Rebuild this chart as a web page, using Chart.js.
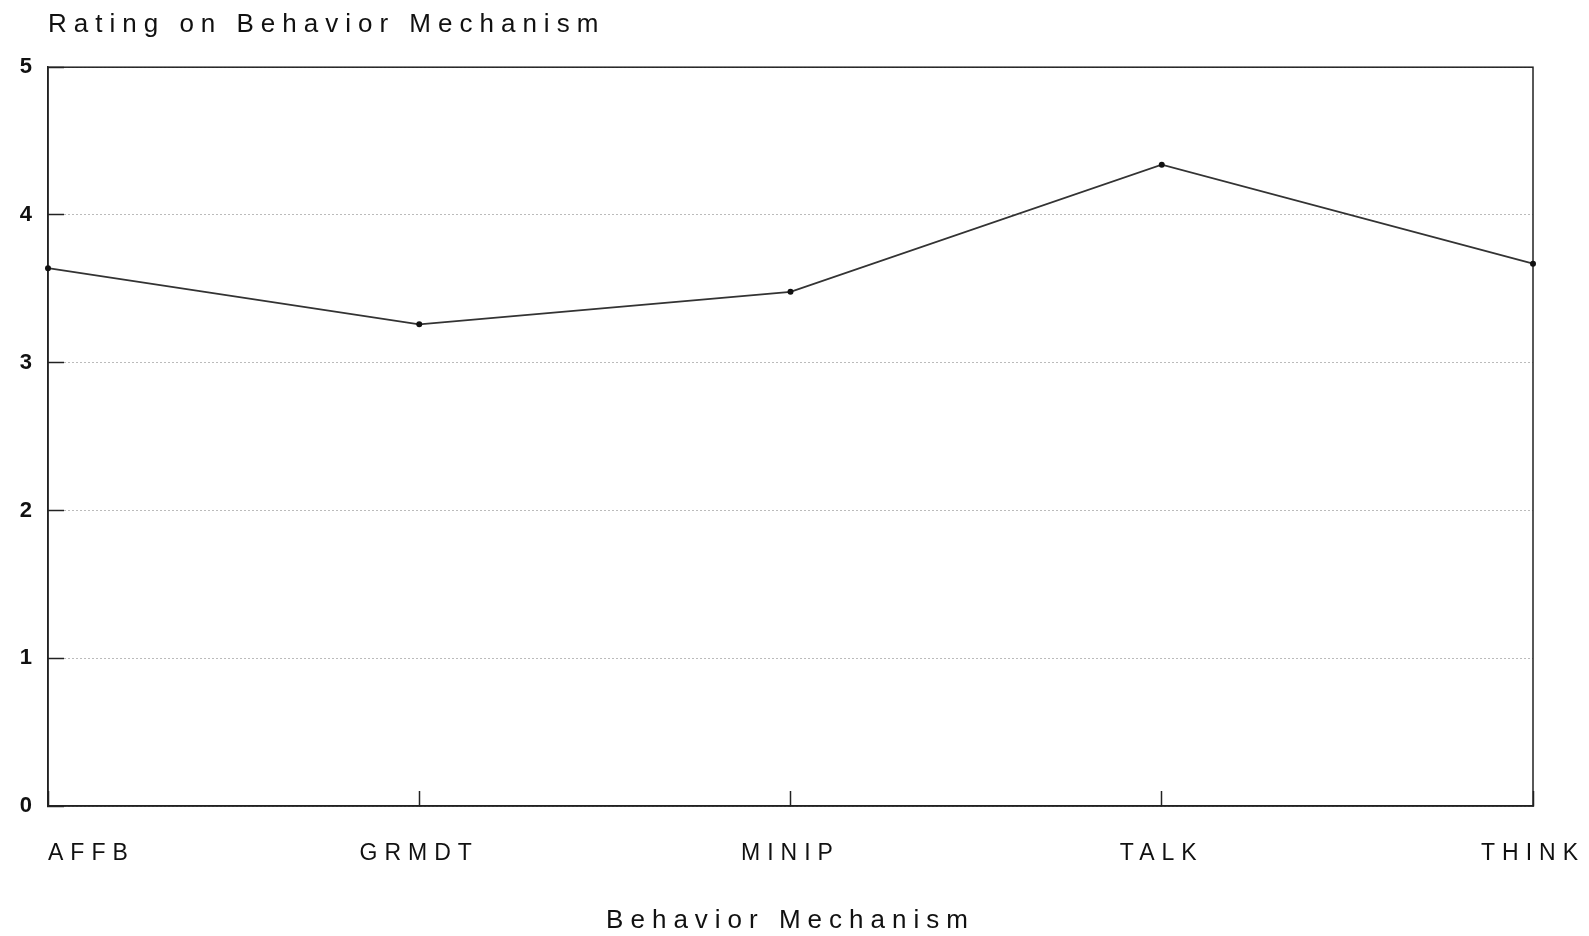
<!DOCTYPE html>
<html>
<head>
<meta charset="utf-8">
<title>Rating on Behavior Mechanism</title>
<script src="https://cdn.jsdelivr.net/npm/chart.js@4.4.1/dist/chart.umd.min.js"></script>
<style>
  html, body { margin: 0; padding: 0; background: #fff; }
  canvas { display: block; }
</style>
</head>
<body>
<canvas id="ratingChart" width="1589" height="936"></canvas>
<script>
// Data
var mechanisms = ['AFFB', 'GRMDT', 'MINIP', 'TALK', 'THINK'];
var ratings = [3.64, 3.26, 3.48, 4.34, 3.67];
var yTicks = [0, 1, 2, 3, 4, 5];

var chartTitle = 'Rating on Behavior Mechanism';
var xTitle = 'Behavior Mechanism';

// old plotter look: wide letter spacing, closed frame round the plot
var plotterLook = {
  id: 'plotterLook',
  beforeUpdate: function(chart) {
    chart.ctx.letterSpacing = '7px';
  },
  beforeDraw: function(chart) {
    chart.ctx.letterSpacing = '7px';
    // first category label starts at its tick instead of centring on it
    var items = chart.scales.x.getLabelItems();
    if (items.length) {
      items[0].options.textAlign = 'left';
    }
  },
  beforeDatasetsDraw: function(chart) {
    var a = chart.chartArea;
    var ctx = chart.ctx;
    ctx.save();
    ctx.strokeStyle = '#222';
    ctx.lineWidth = 1.5;
    ctx.strokeRect(a.left, a.top, a.right - a.left, a.bottom - a.top);
    ctx.restore();
  }
};

var ctx = document.getElementById('ratingChart').getContext('2d');
var ratingChart = new Chart(ctx, {
  type: 'line',
  data: {
    labels: mechanisms,
    datasets: [{
      label: 'Rating',
      data: ratings,
      borderColor: '#333',
      borderWidth: 1.8,
      pointRadius: 3,
      pointBackgroundColor: '#111',
      pointBorderColor: '#111',
      pointBorderWidth: 0,
      tension: 0,
      fill: false,
      clip: false
    }]
  },
  options: {
    responsive: false,
    animation: false,
    devicePixelRatio: 1,
    layout: {
      padding: { left: 0, right: 56, top: 0, bottom: 0 }
    },
    plugins: {
      legend: { display: false },
      tooltip: { enabled: false },
      title: {
        display: true,
        text: chartTitle,
        align: 'start',
        fullSize: false,
        color: '#111',
        font: { family: '"Liberation Sans", Arial, sans-serif', size: 26, weight: 'normal' },
        padding: { top: 9, bottom: 27 }
      }
    },
    scales: {
      x: {
        type: 'category',
        offset: false,
        grid: {
          drawOnChartArea: false,
          drawTicks: true,
          tickLength: -15,
          tickColor: '#222',
          tickWidth: 1.5
        },
        border: { display: true, color: '#222', width: 1.5 },
        ticks: {
          color: '#111',
          padding: 49,
          maxRotation: 0,
          autoSkip: false,
          font: { family: '"Liberation Sans", Arial, sans-serif', size: 23 }
        },
        title: {
          display: true,
          text: xTitle,
          color: '#111',
          font: { family: '"Liberation Sans", Arial, sans-serif', size: 26 },
          padding: { top: 0, bottom: 0 }
        },
        afterFit: function(scale) {
          scale.height = 130;
          // labels may hang past the plot ends, as in the original
          scale.paddingLeft = 0;
          scale.paddingRight = 0;
        }
      },
      y: {
        min: yTicks[0],
        max: yTicks[yTicks.length - 1],
        ticks: {
          stepSize: 1,
          color: '#111',
          padding: 25,
          font: { family: '"Liberation Sans", Arial, sans-serif', size: 22, weight: 'bold' }
        },
        grid: {
          color: '#777',
          lineWidth: 1,
          drawTicks: true,
          tickLength: -16,
          tickColor: '#222',
          tickWidth: 1.5,
          tickBorderDash: []
        },
        border: { display: true, color: '#222', width: 1.5, dash: [1, 3] },
        afterFit: function(scale) {
          scale.width = 48;
          scale.paddingTop = 0;
          scale.paddingBottom = 0;
        }
      }
    }
  },
  plugins: [plotterLook]
});
</script>
</body>
</html>
